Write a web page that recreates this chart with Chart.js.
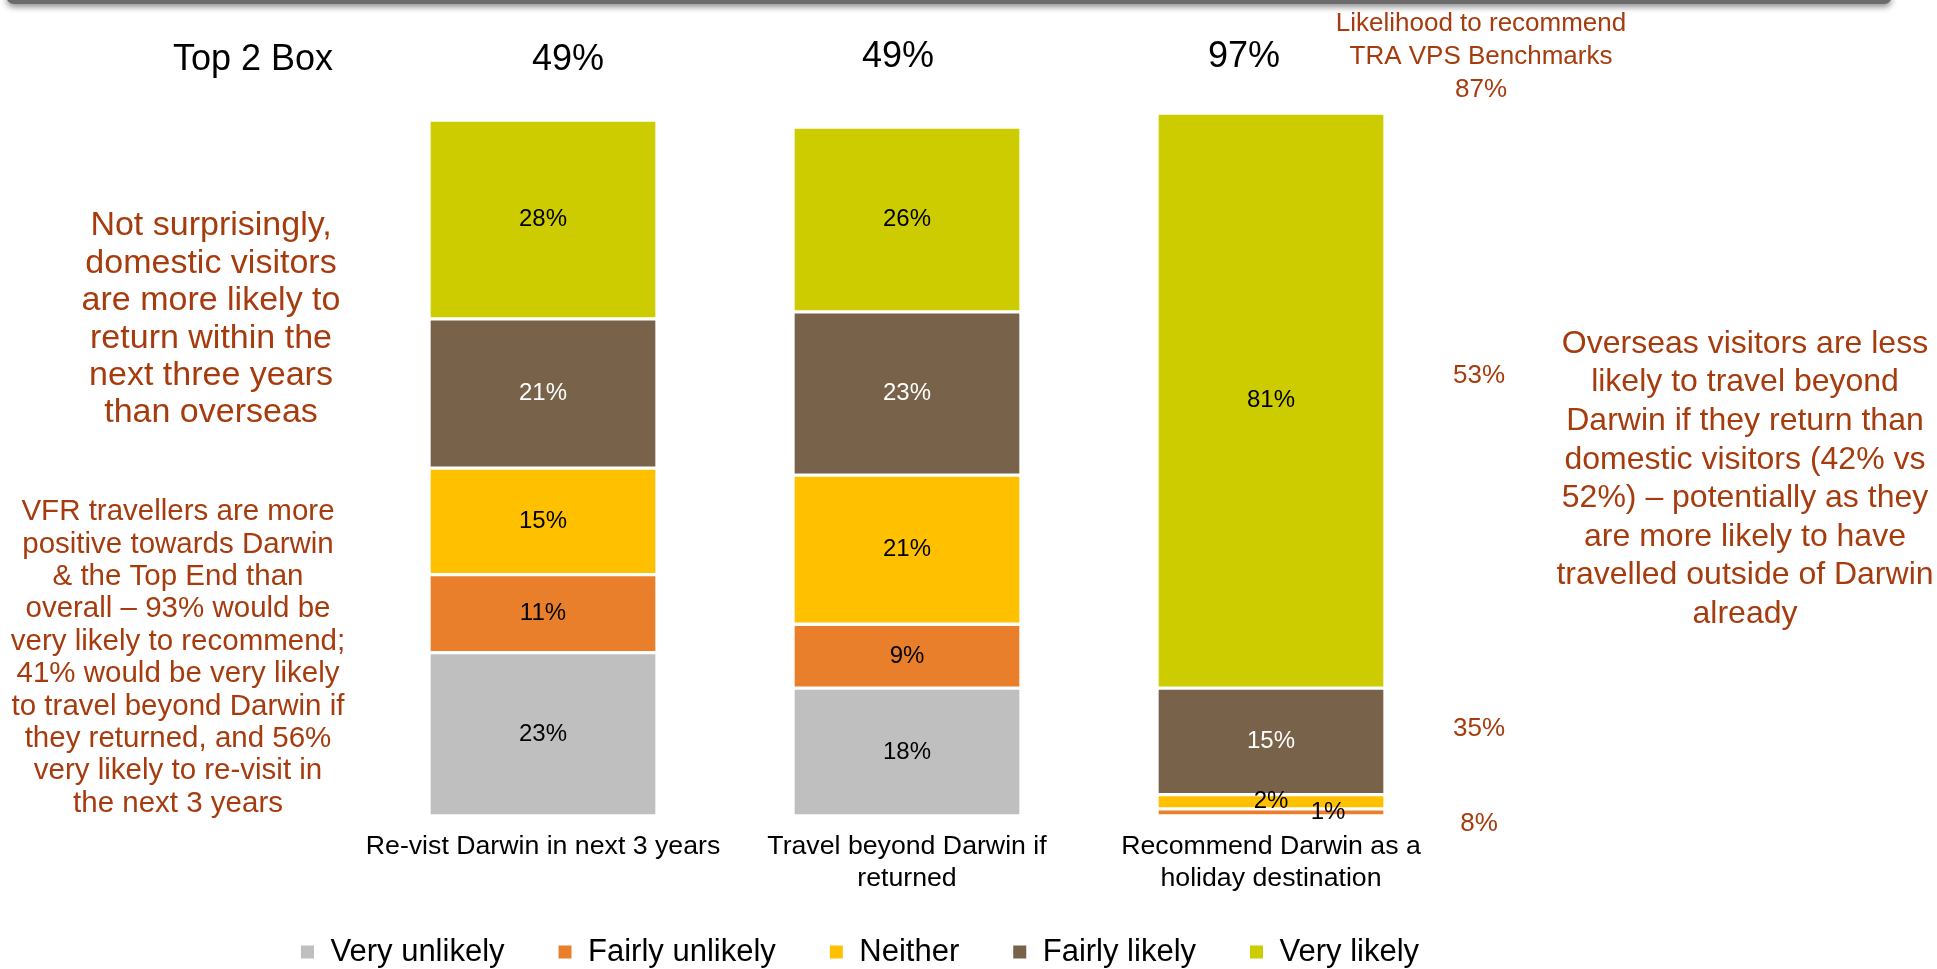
<!DOCTYPE html>
<html>
<head>
<meta charset="utf-8">
<title>Darwin visitor intentions</title>
<script src="https://cdn.jsdelivr.net/npm/chart.js@4.4.1/dist/chart.umd.min.js"></script>
<style>
  html, body { margin: 0; padding: 0; background: #fff; overflow: hidden; }
  #wrap { position: relative; width: 1937px; height: 969px; }
  #topBar {
    position: absolute; top: -5px; left: 6px; width: 1886px; height: 9px;
    background: #6b6b6b; border-radius: 0 0 8px 8px;
    box-shadow: 0 3px 6px rgba(0, 0, 0, 0.45);
  }
</style>
</head>
<body>
<div id="wrap">
  <canvas id="intentChart" width="1937" height="969"></canvas>
  <div id="topBar"></div>
</div>
<script>
// categories and stacked shares (%)
const categories = [
  'Re-vist Darwin in next 3 years',
  ['Travel beyond Darwin if', 'returned'],
  ['Recommend Darwin as a', 'holiday destination']
];
const seriesNames = ['Very unlikely', 'Fairly unlikely', 'Neither', 'Fairly likely', 'Very likely'];
const seriesColors = ['#BFBFBF', '#EA7F2B', '#FFC000', '#786249', '#CCCC00'];
const veryUnlikely = [23, 18, 0];
const fairlyUnlikely = [11, 9, 1];
const neither = [15, 21, 2];
const fairlyLikely = [21, 23, 15];
const veryLikely = [28, 26, 81];
const top2Box = ['49%', '49%', '97%'];
const benchmarkTitle = ['Likelihood to recommend', 'TRA VPS Benchmarks', '87%'];
const benchmarkValues = ['53%', '35%', '8%'];

const noteLeft = ['Not surprisingly,', 'domestic visitors', 'are more likely to',
  'return within the', 'next three years', 'than overseas'];
const noteVfr = ['VFR travellers are more', 'positive towards Darwin', '& the Top End than',
  'overall \u2013 93% would be', 'very likely to recommend;', '41% would be very likely',
  'to travel beyond Darwin if', 'they returned, and 56%', 'very likely to re-visit in',
  'the next 3 years'];
const noteRight = ['Overseas visitors are less', 'likely to travel beyond',
  'Darwin if they return than', 'domestic visitors (42% vs', '52%) \u2013 potentially as they',
  'are more likely to have', 'travelled outside of Darwin', 'already'];

const FONT = '"Liberation Sans", Arial, sans-serif';
const NOTE = '#A63C0E';
Chart.defaults.font.family = FONT;

const seriesData = [veryUnlikely, fairlyUnlikely, neither, fairlyLikely, veryLikely];
const datasets = seriesNames.map((name, i) => ({
  label: name,
  data: seriesData[i],
  backgroundColor: seriesColors[i],
  borderColor: '#ffffff',
  borderWidth: 2,
  borderSkipped: false,
  barThickness: 228
}));

// value labels inside each segment
const segmentLabels = {
  id: 'segmentLabels',
  afterDatasetsDraw(chart) {
    const ctx = chart.ctx;
    ctx.save();
    ctx.font = '24px ' + FONT;
    ctx.textAlign = 'center';
    ctx.textBaseline = 'middle';
    chart.data.datasets.forEach((ds, i) => {
      chart.getDatasetMeta(i).data.forEach((bar, j) => {
        const v = ds.data[j];
        if (!v) return;
        // thin slivers get nudged sideways so they don't overlap
        const x = v < 2 ? bar.x + bar.width / 4 : bar.x;
        ctx.fillStyle = ds.label === 'Fairly likely' ? '#ffffff' : '#000000';
        ctx.fillText(v + '%', x, (bar.y + bar.base) / 2);
      });
    });
    ctx.restore();
  }
};

// pull the legend row up a little, closer to the axis labels
const legendLift = {
  id: 'legendLift',
  afterLayout(chart) {
    if (!chart.legend) return;
    chart.legend.top -= 11.5;
    chart.legend.bottom -= 11.5;
  }
};

function lines(ctx, list, x, y, step) {
  list.forEach((t, i) => ctx.fillText(t, x, y + i * step));
}

// side notes, top-2-box row and benchmarks
const notes = {
  id: 'notes',
  afterDraw(chart) {
    const ctx = chart.ctx;
    const xs = chart.scales.x;
    ctx.save();
    ctx.textAlign = 'center';
    ctx.textBaseline = 'middle';

    ctx.fillStyle = '#000000';
    ctx.font = '36px ' + FONT;
    ctx.fillText('Top 2 Box', 253, 60);
    const shift = [25, -9, -27];
    const rowY = [60, 57, 57];
    top2Box.forEach((t, i) => ctx.fillText(t, xs.getPixelForValue(i) + shift[i], rowY[i]));

    ctx.fillStyle = NOTE;
    ctx.font = '26px ' + FONT;
    lines(ctx, benchmarkTitle, 1481, 24, 32.8);
    const benchY = [376, 729, 824];
    benchmarkValues.forEach((t, i) => ctx.fillText(t, 1479, benchY[i]));

    ctx.font = '34px ' + FONT;
    lines(ctx, noteLeft, 211, 226, 37.4);
    ctx.font = '29.5px ' + FONT;
    lines(ctx, noteVfr, 178, 512, 32.4);
    ctx.font = '32px ' + FONT;
    lines(ctx, noteRight, 1745, 344, 38.6);
    ctx.restore();
  }
};

new Chart(document.getElementById('intentChart'), {
  type: 'bar',
  data: { labels: categories, datasets: datasets },
  options: {
    responsive: false,
    animation: false,
    layout: { padding: { left: 247, right: 0, top: 113, bottom: -20 } },
    plugins: {
      tooltip: { enabled: false },
      legend: {
        position: 'bottom',
        align: 'start',
        labels: {
          color: '#000000',
          font: { size: 31 },
          boxWidth: 15,
          boxHeight: 15,
          padding: 53
        }
      }
    },
    scales: {
      x: {
        stacked: true,
        grid: { display: false, drawTicks: false },
        border: { display: false },
        ticks: {
          color: '#000000',
          font: { size: 26.7, lineHeight: 1.2 },
          padding: 15,
          maxRotation: 0,
          minRotation: 0,
          autoSkip: false
        },
        afterFit(scale) { scale.height = 79; }
      },
      y: {
        stacked: true,
        min: 0,
        max: 99,
        grid: { display: false },
        border: { display: false },
        ticks: { display: false },
        afterFit(scale) { scale.width = 114; }
      },
      yRight: {
        position: 'right',
        min: 0,
        max: 99,
        grid: { display: false },
        border: { display: false },
        ticks: { display: false },
        afterFit(scale) { scale.width = 484; }
      }
    }
  },
  plugins: [segmentLabels, legendLift, notes]
});
</script>
</body>
</html>
